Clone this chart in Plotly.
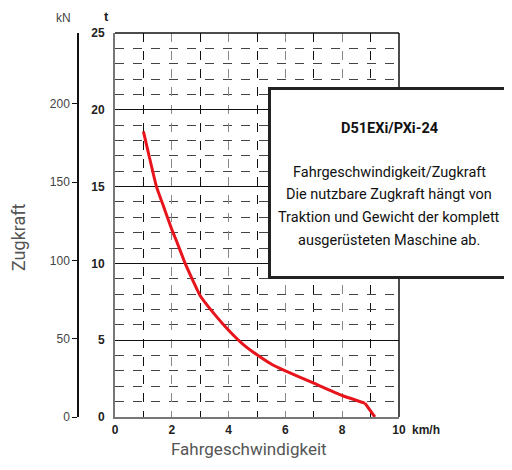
import plotly.graph_objects as go

speed_kmh = [1.0, 1.2, 1.46, 1.75, 2.0, 2.2, 2.47, 3.0, 3.5, 4.0, 4.5, 5.0, 5.5, 6.0, 7.0, 8.0, 8.8, 9.15]
force_t = [18.6, 17.0, 15.0, 13.5, 12.2, 11.3, 10.0, 7.9, 6.7, 5.65, 4.75, 4.05, 3.45, 3.0, 2.2, 1.4, 0.9, 0.0]

t_ticks = [0, 5, 10, 15, 20, 25]
kn_ticks = [0, 50, 100, 150, 200]
x_ticks = [0, 2, 4, 6, 8, 10]
x_ticktext = ["0", "2", "4", "6", "8", "10"]
G = 9.81

box_title = "D51EXi/PXi-24"
box_lines = ["Fahrgeschwindigkeit/Zugkraft",
             "Die nutzbare Zugkraft hängt von",
             "Traktion und Gewicht der komplett",
             "ausgerüsteten Maschine ab."]

OFF = 8  # page body margin
W, H = 512 - 2 * OFF, 470 - 2 * OFF
ref_axis_kn, ref_left, ref_right, ref_top, ref_bottom = 78, 115, 399, 33, 417
L = ref_axis_kn - OFF
T = ref_top - OFF
R = W - (ref_right - OFF)
B = H - (ref_bottom - OFF)
dom0 = (ref_left - ref_axis_kn) / (ref_right - ref_axis_kn)

def px(xref_pix):
    return (xref_pix - ref_axis_kn) / (ref_right - ref_axis_kn)

def py(yref_pix):
    return (ref_bottom - yref_pix) / (ref_bottom - ref_top)

KINK = 16  # index of the knee at 8.8 km/h
fig = go.Figure()
fig.add_trace(go.Scatter(x=speed_kmh[:KINK + 1], y=force_t[:KINK + 1], mode="lines",
                         line=dict(color="#e8141c", width=3, shape="spline", smoothing=0.4),
                         showlegend=False, hoverinfo="skip"))
fig.add_trace(go.Scatter(x=speed_kmh[KINK:], y=force_t[KINK:], mode="lines",
                         line=dict(color="#e8141c", width=3),
                         showlegend=False, hoverinfo="skip"))
fig.add_trace(go.Scatter(x=[None], y=[None], yaxis="y2", showlegend=False))

tickfont_b = dict(family="Liberation Sans, Arial", size=12, color="#222", weight="bold")
fig.update_layout(
    width=W, height=H,
    margin=dict(l=L, r=R, t=T, b=B),
    plot_bgcolor="white", paper_bgcolor="white",
    xaxis=dict(domain=[dom0, 1], range=[0, 10], tickvals=x_ticks, ticktext=x_ticktext,
               tickfont=tickfont_b, showline=True, linecolor="#777", linewidth=2,
               mirror=False, zeroline=False, ticks="",
               showgrid=True, gridcolor="#888", griddash="dash", gridwidth=1,
               minor=dict(dtick=1, showgrid=True, gridcolor="#111", griddash="dash", gridwidth=1),
               ticklabelstandoff=1),
    yaxis=dict(range=[0, 25], tickvals=t_ticks, tickfont=tickfont_b,
               showline=True, linecolor="#777", linewidth=2, zeroline=False, ticks="",
               showgrid=True, gridcolor="#111", gridwidth=1.2,
               minor=dict(dtick=1, showgrid=True, gridcolor="#444", griddash="dash", gridwidth=1),
               ticklabelstandoff=6),
    yaxis2=dict(range=[0, 25 * G], tickvals=kn_ticks, overlaying="y", anchor="free",
                position=0, side="left", showline=True, linecolor="#111", linewidth=1.5,
                ticks="outside", ticklen=5, tickcolor="#111", showgrid=False, zeroline=False,
                tickfont=dict(family="Liberation Sans, Arial", size=12, color="#444")),
)

shapes = [
    dict(type="line", xref="paper", yref="paper", x0=dom0, x1=1, y0=1, y1=1,
         line=dict(color="#111", width=1.5)),
    dict(type="line", xref="paper", yref="paper", x0=1, x1=1, y0=0, y1=1,
         line=dict(color="#111", width=1.5)),
]
fig.update_layout(shapes=shapes)

boxfont = dict(family="Roboto", size=14.5, color="#111")
annotations = [
    dict(text="", x=px(268), y=py(87), xref="paper", yref="paper",
         xanchor="left", yanchor="top", showarrow=False,
         width=260, height=186, bgcolor="white", bordercolor="#222", borderwidth=3,
         borderpad=0),
    dict(text="<b>" + box_title + "</b>", x=px(389), y=py(128), xref="paper", yref="paper",
         xanchor="center", yanchor="middle", showarrow=False, font=boxfont),
]
line_y = [172, 194, 217, 240]
for txt, yy in zip(box_lines, line_y):
    annotations.append(dict(text=txt, x=px(389), y=py(yy), xref="paper", yref="paper",
                            xanchor="center", yanchor="middle", showarrow=False, font=boxfont))
annotations += [
    dict(text="kN", x=px(63), y=py(18), xref="paper", yref="paper", showarrow=False,
         xanchor="center", yanchor="middle",
         font=dict(family="Liberation Sans, Arial", size=12, color="#444")),
    dict(text="t", x=px(106), y=py(17), xref="paper", yref="paper", showarrow=False,
         xanchor="center", yanchor="middle",
         font=dict(family="Liberation Sans, Arial", size=13, color="#222", weight="bold")),
    dict(text="km/h", x=px(410), y=py(430), xref="paper", yref="paper", showarrow=False,
         xanchor="left", yanchor="middle",
         font=dict(family="Liberation Sans, Arial", size=12, color="#222", weight="bold")),
    dict(text="Zugkraft", x=px(18), y=py(237), xref="paper", yref="paper", showarrow=False,
         xanchor="center", yanchor="middle",
         textangle=-90, font=dict(family="Roboto", size=18, color="#555")),
    dict(text="Fahrgeschwindigkeit", x=px(249), y=py(461), xref="paper", yref="paper",
         xanchor="center", yanchor="bottom", showarrow=False,
         font=dict(family="Roboto", size=17, color="#555")),
]
fig.update_layout(annotations=annotations)

fig.write_html("out.html")
